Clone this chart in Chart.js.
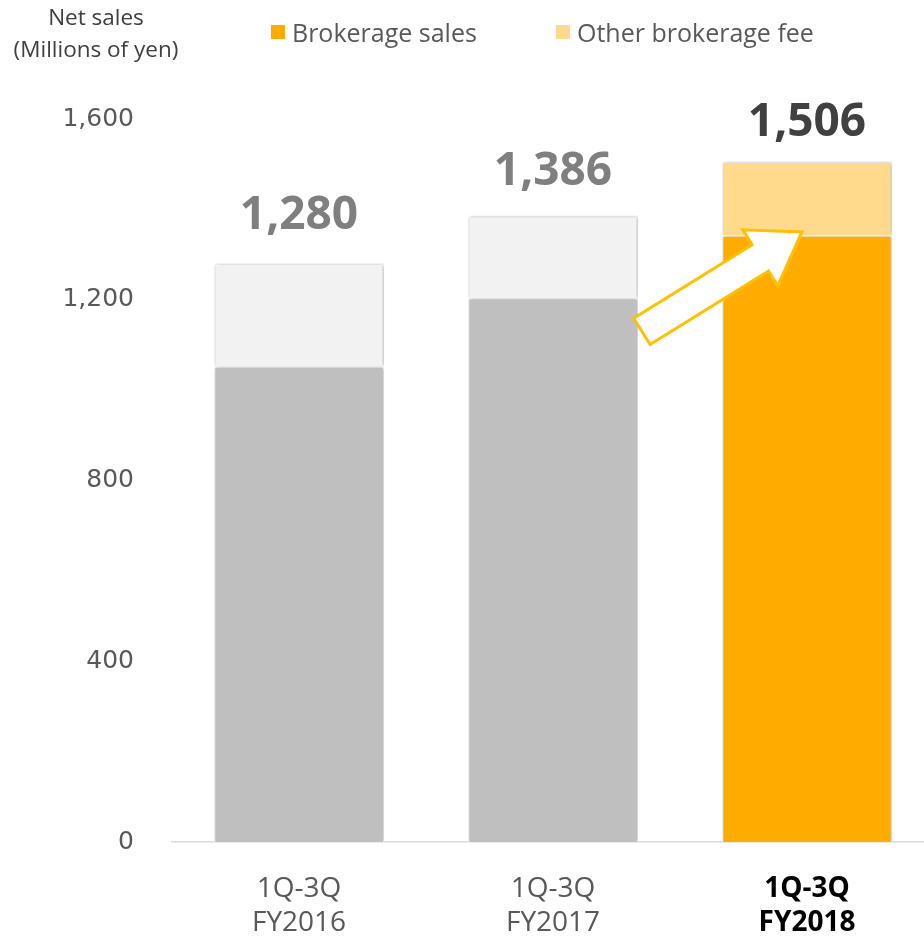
<!DOCTYPE html>
<html>
<head>
<meta charset="utf-8">
<title>Net sales</title>
<script src="https://cdn.jsdelivr.net/npm/chart.js@4/dist/chart.umd.min.js"></script>
<style>
  html, body { margin: 0; padding: 0; background: #fff; overflow: hidden; }
  #wrap { position: relative; width: 924px; height: 938px; overflow: hidden; }
  #chart { position: absolute; left: 0; top: 0; }
  .unit { position: absolute; left: 0; top: 1px; width: 192px; text-align: center;
          font: 22.5px 'Open Sans', sans-serif; line-height: 32px; color: #404040; }
  .legend { position: absolute; top: 15px; display: flex; align-items: center;
            font: 25px 'Open Sans', sans-serif; color: #595959; }
  .legend i { display: inline-block; width: 14px; height: 14px; margin-right: 7px; }
</style>
</head>
<body>
<div id="wrap">
  <canvas id="chart" width="934" height="938"></canvas>
  <div class="unit">Net sales<br>(Millions of yen)</div>
  <div class="legend" style="left:271px"><i style="background:#ffab00"></i>Brokerage sales</div>
  <div class="legend" style="left:556px"><i style="background:#ffd98c"></i>Other brokerage fee</div>
</div>
<script>
const periods = [['1Q-3Q', 'FY2016'], ['1Q-3Q', 'FY2017'], ['1Q-3Q', 'FY2018']]
const brokerageSales = [1053, 1204, 1343]
const otherFee = [227, 182, 163]
const yTicks = [0, 400, 800, 1200, 1600]

// past years in grey, current year in orange
const brokerageColors = ['#bfbfbf', '#bfbfbf', '#ffab00']
const otherColors = ['#f2f2f2', '#f2f2f2', '#ffd98c']
const totalColors = ['#7f7f7f', '#7f7f7f', '#404040']
const totalGap = [35, 31, 25]

// arrow from FY2017 towards FY2018 (category index, value)
const arrowFrom = [1.35, 1130]
const arrowTo = [1.98, 1350]

const fmt = v => v.toLocaleString('en-US')

const extras = {
    id: 'extras',
    beforeDatasetsDraw(chart) {
        const ctx = chart.ctx
        ctx.save()
        ctx.shadowColor = 'rgba(0,0,0,0.28)'
        ctx.shadowBlur = 4
        ctx.shadowOffsetX = 1
    },
    afterDatasetsDraw(chart) {
        const ctx = chart.ctx
        ctx.restore()
        const x = chart.scales.x
        const y = chart.scales.y

        // arrow
        const x0 = x.getPixelForValue(arrowFrom[0]), y0 = y.getPixelForValue(arrowFrom[1])
        const x1 = x.getPixelForValue(arrowTo[0]), y1 = y.getPixelForValue(arrowTo[1])
        const len = Math.hypot(x1 - x0, y1 - y0)
        const dx = (x1 - x0) / len, dy = (y1 - y0) / len
        const nx = -dy, ny = dx
        const bw = 15.5, hw = 33, hl = 49
        const bx = x1 - dx * hl, by = y1 - dy * hl
        const pts = [
            [x0 + nx * bw, y0 + ny * bw],
            [bx + nx * bw, by + ny * bw],
            [bx + nx * hw, by + ny * hw],
            [x1, y1],
            [bx - nx * hw, by - ny * hw],
            [bx - nx * bw, by - ny * bw],
            [x0 - nx * bw, y0 - ny * bw]
        ]
        ctx.save()
        ctx.beginPath()
        pts.forEach((p, i) => i ? ctx.lineTo(p[0], p[1]) : ctx.moveTo(p[0], p[1]))
        ctx.closePath()
        ctx.fillStyle = '#ffffff'
        ctx.fill()
        ctx.lineWidth = 3
        ctx.lineJoin = 'miter'
        ctx.strokeStyle = '#ffc000'
        ctx.stroke()
        ctx.restore()

        // totals above each stack
        const meta = chart.getDatasetMeta(1)
        ctx.save()
        ctx.font = 'bold 46px "Open Sans"'
        ctx.textAlign = 'center'
        ctx.textBaseline = 'alphabetic'
        meta.data.forEach((bar, i) => {
            ctx.fillStyle = totalColors[i]
            ctx.fillText(fmt(brokerageSales[i] + otherFee[i]), bar.x, bar.y - totalGap[i])
        })
        ctx.restore()
    }
}

new Chart(document.getElementById('chart'), {
    type: 'bar',
    data: {
        labels: periods,
        datasets: [
            {
                label: 'Brokerage sales',
                data: brokerageSales,
                backgroundColor: brokerageColors,
                borderColor: '#ffffff',
                borderWidth: 1.5
            },
            {
                label: 'Other brokerage fee',
                data: otherFee,
                backgroundColor: otherColors,
                borderColor: '#ffffff',
                borderWidth: 1.5
            }
        ]
    },
    options: {
        responsive: false,
        animation: false,
        layout: { padding: { top: 119, left: 0, right: 0, bottom: 0 } },
        datasets: { bar: { barPercentage: 1, categoryPercentage: 0.67 } },
        scales: {
            x: {
                stacked: true,
                afterFit(scale) { scale.height = 96 },
                grid: { display: false },
                border: { display: true, color: '#d9d9d9', width: 1.5 },
                ticks: {
                    padding: 22,
                    color: c => c.index === 2 ? '#000000' : '#595959',
                    font: c => ({
                        family: 'Open Sans',
                        size: 28,
                        weight: c.index === 2 ? 'bold' : 'normal',
                        lineHeight: 1.22
                    })
                }
            },
            y: {
                stacked: true,
                min: 0,
                max: 1600,
                afterFit(scale) { scale.width = 172 },
                afterBuildTicks(scale) { scale.ticks = yTicks.map(v => ({ value: v })) },
                grid: { display: false, drawTicks: false },
                border: { display: false },
                ticks: {
                    padding: 38,
                    color: '#595959',
                    font: { family: 'DejaVu Sans', size: 25 },
                    callback: v => fmt(v)
                }
            }
        },
        plugins: {
            legend: { display: false },
            tooltip: { enabled: false }
        }
    },
    plugins: [extras]
})
</script>
</body>
</html>
